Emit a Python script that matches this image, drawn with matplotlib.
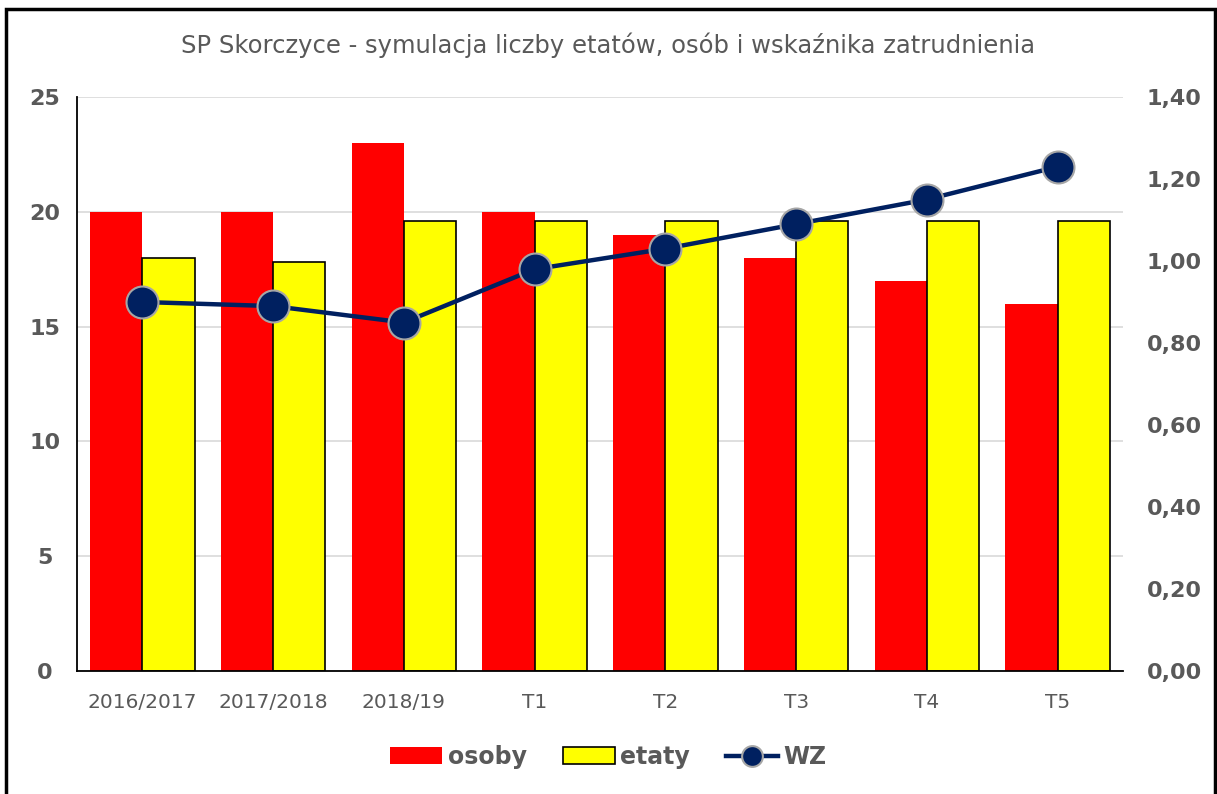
import matplotlib.pyplot as plt
import numpy as np
from matplotlib.patches import Rectangle
from matplotlib.ticker import FuncFormatter

categories = ["2016/2017", "2017/2018", "2018/19", "T1", "T2", "T3", "T4", "T5"]
osoby = [20, 20, 23, 20, 19, 18, 17, 16]
etaty = [18.0, 17.8, 19.6, 19.6, 19.6, 19.6, 19.6, 19.6]
wz = [0.90, 0.89, 0.85, 0.98, 1.03, 1.09, 1.15, 1.23]

GREY = "#595959"


def main() -> None:
    plt.rcParams["font.family"] = "DejaVu Sans"
    fig = plt.figure(figsize=(12.17, 7.94), dpi=100)
    ax = fig.add_axes([77 / 1217, 1 - 671 / 794, (1123 - 77) / 1217, (671 - 97) / 794])
    ax2 = ax.twinx()

    x = np.arange(len(categories))
    w = 0.4
    ax.bar(x - w / 2, osoby, w, color="#ff0000", label="osoby", zorder=2)
    ax.bar(x + w / 2, etaty, w, color="#ffff00", edgecolor="black", linewidth=1.2,
           label="etaty", zorder=2)
    ax2.plot(x, wz, color="#002060", linewidth=3.2, marker="o", markersize=23,
             markerfacecolor="#002060", markeredgecolor="#a6a6a6", markeredgewidth=1.5,
             label="WZ", zorder=3)

    ax.set_xlim(-0.5, len(categories) - 0.5)
    ax.set_ylim(0, 25)
    ax.set_yticks(range(0, 26, 5))
    ax2.set_ylim(0, 1.4)
    ax2.set_yticks(np.arange(0, 1.41, 0.2))
    ax2.yaxis.set_major_formatter(FuncFormatter(lambda v, _: f"{v:.2f}".replace(".", ",")))

    ax.set_xticks(x)
    ax.set_xticklabels(categories, fontsize=14.5, color=GREY)
    ax.grid(axis="y", color="#d9d9d9", linewidth=1.2, zorder=0)
    ax.set_axisbelow(True)

    for a in (ax, ax2):
        for s in ("top", "right"):
            a.spines[s].set_visible(False)
        a.tick_params(length=0)
    ax2.spines["left"].set_visible(False)
    ax2.spines["bottom"].set_visible(False)
    ax.spines["left"].set_linewidth(1.3)
    ax.spines["bottom"].set_linewidth(1.3)

    ax.tick_params(axis="y", pad=23, labelsize=16, labelcolor=GREY)
    ax.tick_params(axis="x", pad=16)
    for t in ax.get_yticklabels():
        t.set_fontweight("bold")
        t.set_ha("center")
    ax2.tick_params(axis="y", pad=17, labelsize=16, labelcolor=GREY)
    for t in ax2.get_yticklabels():
        t.set_fontweight("bold")

    fig.text(0.5, 1 - 45 / 794, "SP Skorczyce - symulacja liczby etatów, osób i wskaźnika zatrudnienia",
             ha="center", va="center", fontsize=17.5, color=GREY)

    h1, l1 = ax.get_legend_handles_labels()
    h2, l2 = ax2.get_legend_handles_labels()
    leg = fig.legend(h1 + h2, l1 + l2, loc="center", bbox_to_anchor=(0.5, 1 - 757 / 794),
                     ncol=3, frameon=False, prop={"weight": "bold", "size": 17},
                     handlelength=2.2, handletextpad=0.25, columnspacing=1.5,
                     markerscale=0.65)
    for t in leg.get_texts():
        t.set_color(GREY)

    fig.patches.append(Rectangle((6 / 1217, -0.01), (1215 - 6) / 1217, 1 - 9 / 794 + 0.01,
                                 transform=fig.transFigure, fill=False,
                                 edgecolor="black", linewidth=2.5))

    fig.savefig("out.png", dpi=100)


if __name__ == "__main__":
    main()
